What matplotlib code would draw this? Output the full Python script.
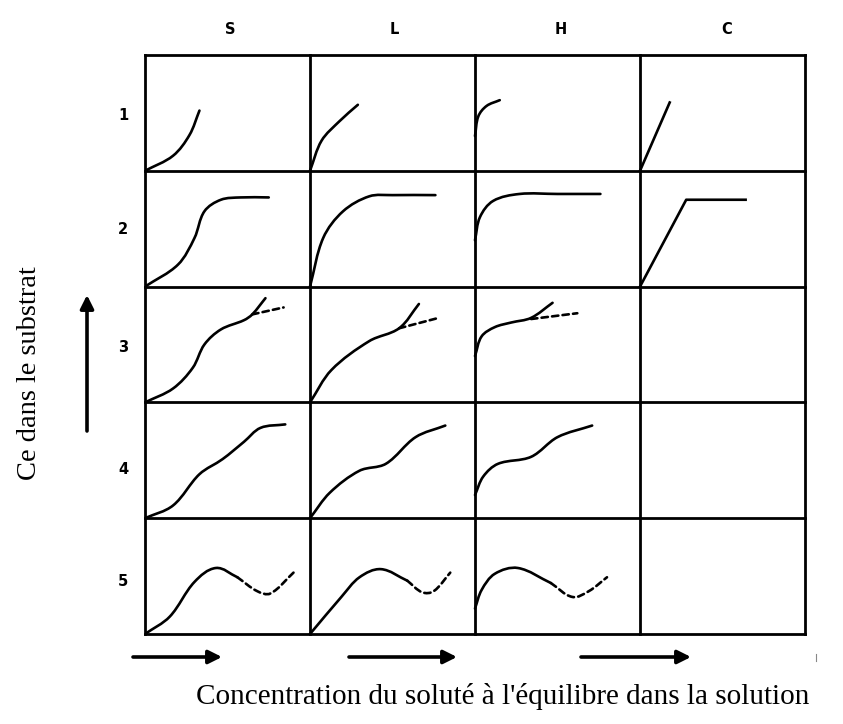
import numpy as np
import matplotlib
matplotlib.use("Agg")
import matplotlib.pyplot as plt
from matplotlib.path import Path
import matplotlib.patches as mpatches

# isotherm classes (columns) and sub-groups (rows)
classes = ["S", "L", "H", "C"]
groups = ["1", "2", "3", "4", "5"]

# curve shapes, in cell units (0..1 across, 0..1 up), keyed by (class, group)
solid = {
    ("S", 1): [(0, 0), (0.17, 0.13), (0.27, 0.31), (0.33, 0.52)],
    ("L", 1): [(0, 0), (0.07, 0.26), (0.18, 0.43), (0.29, 0.57)],
    ("H", 1): [(0, 0.3), (0.02, 0.47), (0.07, 0.56), (0.15, 0.61)],
    ("S", 2): [(0, 0), (0.2, 0.19), (0.3, 0.42), (0.36, 0.65), (0.46, 0.75),
               (0.58, 0.77), (0.75, 0.77)],
    ("L", 2): [(0, 0), (0.08, 0.42), (0.2, 0.65), (0.36, 0.78), (0.5, 0.79), (0.76, 0.79)],
    ("H", 2): [(0, 0.4), (0.03, 0.6), (0.11, 0.74), (0.27, 0.8), (0.5, 0.8), (0.76, 0.8)],
    ("S", 3): [(0, 0), (0.17, 0.12), (0.29, 0.3), (0.36, 0.5), (0.46, 0.63),
               (0.6, 0.71), (0.65, 0.76), (0.73, 0.9)],
    ("L", 3): [(0, 0), (0.13, 0.28), (0.36, 0.53), (0.54, 0.64), (0.66, 0.85)],
    ("H", 3): [(0, 0.4), (0.04, 0.57), (0.12, 0.65), (0.22, 0.69), (0.34, 0.73), (0.47, 0.86)],
    ("S", 4): [(0, 0), (0.17, 0.11), (0.33, 0.38), (0.47, 0.51), (0.6, 0.66),
               (0.7, 0.78), (0.85, 0.81)],
    ("L", 4): [(0, 0), (0.12, 0.22), (0.3, 0.41), (0.46, 0.47), (0.64, 0.7), (0.82, 0.8)],
    ("H", 4): [(0, 0.2), (0.05, 0.36), (0.14, 0.47), (0.34, 0.53), (0.5, 0.7), (0.71, 0.8)],
    ("S", 5): [(0, 0), (0.15, 0.15), (0.3, 0.45), (0.43, 0.57), (0.56, 0.49)],
    ("L", 5): [(0, 0), (0.19, 0.32), (0.3, 0.49), (0.43, 0.56), (0.59, 0.46)],
    ("H", 5): [(0, 0.22), (0.04, 0.38), (0.12, 0.52), (0.26, 0.57), (0.46, 0.44)],
}
dashed = {
    ("S", 3): [(0.65, 0.76), (0.84, 0.82)],
    ("L", 3): [(0.54, 0.64), (0.78, 0.73)],
    ("H", 3): [(0.34, 0.72), (0.62, 0.77)],
    ("S", 5): [(0.56, 0.49), (0.68, 0.37), (0.76, 0.35), (0.9, 0.53)],
    ("L", 5): [(0.59, 0.46), (0.68, 0.36), (0.75, 0.37), (0.85, 0.53)],
    ("H", 5): [(0.46, 0.44), (0.59, 0.32), (0.69, 0.37), (0.8, 0.49)],
}
# C class is made of straight segments
straight = {
    ("C", 1): [(0, 0), (0.18, 0.59)],
    ("C", 2): [(0, 0), (0.28, 0.75), (0.64, 0.75)],
}

CELL_W, CELL_H = 165.0, 116.0


def smooth_path(pts):
    """Smooth cubic bezier through the points (tangents scaled by chord length)."""
    p = np.asarray(pts, float) * [CELL_W, CELL_H]
    n = len(p)
    tang = np.zeros_like(p)
    for i in range(n):
        d = p[min(i + 1, n - 1)] - p[max(i - 1, 0)]
        tang[i] = d / np.hypot(*d)
    verts = [p[0]]
    codes = [Path.MOVETO]
    for i in range(n - 1):
        L = np.hypot(*(p[i + 1] - p[i])) / 3
        verts += [p[i] + tang[i] * L, p[i + 1] - tang[i + 1] * L, p[i + 1]]
        codes += [Path.CURVE4] * 3
    verts = np.array(verts) / [CELL_W, CELL_H]
    return Path(verts, codes)


def to_cell(pts, cls, grp):
    col = classes.index(cls)
    row = len(groups) - grp
    return [(col + u, row + v) for u, v in pts]


W, H = 843, 724
fig = plt.figure(figsize=(W / 100, H / 100), dpi=100)
fig.patch.set_facecolor("white")

# grid axes: one unit per cell
gx0, gx1, gy0, gy1 = 145, 805, 55, 634
ax = fig.add_axes([gx0 / W, 1 - gy1 / H, (gx1 - gx0) / W, (gy1 - gy0) / H])
ax.set_xlim(0, len(classes))
ax.set_ylim(0, len(groups))
ax.axis("off")

grid_kw = dict(color="black", lw=2.0, solid_capstyle="projecting", zorder=3, clip_on=False)
for i in range(len(classes) + 1):
    ax.plot([i, i], [0, len(groups)], **grid_kw)
for j in range(len(groups) + 1):
    ax.plot([0, len(classes)], [j, j], **grid_kw)

curve_kw = dict(fill=False, edgecolor="black", lw=1.9, capstyle="round", zorder=4)
for (cls, grp), pts in solid.items():
    ax.add_patch(mpatches.PathPatch(smooth_path(to_cell(pts, cls, grp)), **curve_kw))
for (cls, grp), pts in dashed.items():
    ax.add_patch(mpatches.PathPatch(smooth_path(to_cell(pts, cls, grp)),
                                    linestyle=(0, (2.4, 1.6)), **curve_kw))
for (cls, grp), pts in straight.items():
    xy = np.array(to_cell(pts, cls, grp))
    ax.plot(xy[:, 0], xy[:, 1], color="black", lw=1.9, zorder=4)

# overlay in pixel units for labels and arrows
ov = fig.add_axes([0, 0, 1, 1])
ov.set_xlim(0, W)
ov.set_ylim(H, 0)
ov.axis("off")
ov.patch.set_alpha(0)

col_x = [226, 390, 557, 723]
for name, x in zip(classes, col_x):
    ov.text(x + 4, 30, name, ha="center", va="center", fontsize=10.5,
            fontweight="bold", family="DejaVu Sans")
row_y = [115, 230, 347, 469, 582]
for name, y in zip(groups, row_y):
    ov.text(123, y, name, ha="center", va="center", fontsize=10.5,
            fontweight="bold", family="DejaVu Sans")

arrow_kw = dict(arrowstyle="-|>,head_length=0.8,head_width=0.4", color="black",
                lw=2.6, shrinkA=0, shrinkB=0)
ov.annotate("", xy=(87, 295), xytext=(87, 431), arrowprops=arrow_kw)
for x0, x1 in [(133, 222), (349, 457), (581, 691)]:
    ov.annotate("", xy=(x1, 657), xytext=(x0, 657), arrowprops=arrow_kw)
ov.plot([816, 816], [654, 661], color="#888888", lw=0.8)

ov.text(30, 373, "Ce dans le substrat", rotation=90, ha="center", va="center",
        fontsize=20.5, family="Liberation Serif")
ov.text(503, 697, "Concentration du soluté à l'équilibre dans la solution",
        ha="center", va="center", fontsize=21, family="Liberation Serif")

fig.savefig("out.png", dpi=100, facecolor="white")
